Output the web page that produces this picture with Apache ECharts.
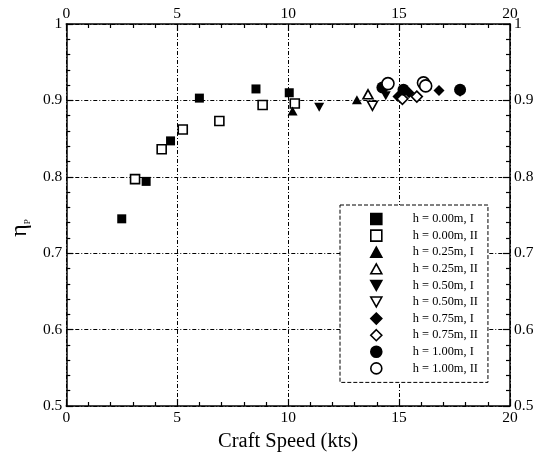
<!DOCTYPE html>
<html>
<head>
<meta charset="utf-8">
<script src="https://cdn.jsdelivr.net/npm/echarts@6/dist/echarts.min.js"></script>
<style>html,body{margin:0;padding:0;background:#fff;}#c{width:539px;height:459px;}</style>
</head>
<body>
<div id="c"></div>
<script>
// ---- data (Craft Speed in kts, propulsive efficiency eta_P) ----
const seriesNames = ['h = 0.00m, I','h = 0.00m, II','h = 0.25m, I','h = 0.25m, II','h = 0.50m, I','h = 0.50m, II','h = 0.75m, I','h = 0.75m, II','h = 1.00m, I','h = 1.00m, II'];
const h000_I_x  = [2.5, 3.6, 4.7, 6.0, 8.55, 10.05];
const h000_I_y  = [0.745, 0.794, 0.847, 0.903, 0.915, 0.910];
const h000_II_x = [3.1, 4.3, 5.25, 6.9, 8.85, 10.3];
const h000_II_y = [0.797, 0.836, 0.862, 0.873, 0.894, 0.896];
const h025_I_x  = [10.2, 13.1];
const h025_I_y  = [0.886, 0.901];
const h025_II_x = [13.6];
const h025_II_y = [0.908];
const h050_I_x  = [11.4, 14.4];
const h050_I_y  = [0.891, 0.906];
const h050_II_x = [13.8];
const h050_II_y = [0.893];
const h075_I_x  = [14.95, 15.45, 16.8, 17.75];
const h075_I_y  = [0.905, 0.910, 0.913, 0.912];
const h075_II_x = [15.15, 15.8];
const h075_II_y = [0.902, 0.905];
const h100_I_x  = [14.25, 15.2, 17.75];
const h100_I_y  = [0.917, 0.914, 0.914];
const h100_II_x = [14.5, 16.1, 16.2];
const h100_II_y = [0.922, 0.923, 0.919];
const xTicks = [0, 5, 10, 15, 20];
const yTicks = [0.5, 0.6, 0.7, 0.8, 0.9, 1];

const xsList = [h000_I_x,h000_II_x,h025_I_x,h025_II_x,h050_I_x,h050_II_x,h075_I_x,h075_II_x,h100_I_x,h100_II_x];
const ysList = [h000_I_y,h000_II_y,h025_I_y,h025_II_y,h050_I_y,h050_II_y,h075_I_y,h075_II_y,h100_I_y,h100_II_y];

const P = {
  square: 'path://M0,0L10,0L10,10L0,10Z',
  tri: 'path://M5,0L10,9L0,9Z',
  itri: 'path://M0,0L10,0L5,9Z',
  diamond: 'path://M5,0L10,5L5,10L0,5Z',
  circle: 'path://M0,5A5,5,0,1,1,10,5A5,5,0,1,1,0,5Z'
};
const shapes = ['square','square','tri','tri','itri','itri','diamond','diamond','circle','circle'];
const sizes  = {square:9, tri:10, itri:10, diamond:11, circle:12};
const FONT = "'Liberation Serif','DejaVu Serif',serif";

const series = seriesNames.map((n, i) => {
  const open = i % 2 === 1;
  const s = shapes[i];
  const sz = sizes[s];
  return {
    name: n, type: 'scatter', xAxisIndex: 0, yAxisIndex: 0,
    symbol: P[s], symbolSize: [sz, s === 'tri' || s === 'itri' ? sz * 0.9 : sz],
    itemStyle: open ? {color: '#fff', borderColor: '#000', borderWidth: 1.6, opacity: 1}
                    : {color: '#000', borderColor: '#000', borderWidth: 0, opacity: 1},
    data: xsList[i].map((x, k) => [x, ysList[i][k]]),
    z: 3 + i
  };
});

const axisCommon = {
  axisLine: {show: true, onZero: false, lineStyle: {color: '#000', width: 1.5}},
  axisTick: {show: true, inside: true, length: 7, lineStyle: {color: '#000', width: 1.2}},
  minorTick: {show: true, splitNumber: 5, length: 4, lineStyle: {color: '#000', width: 1.2}},
  axisLabel: {color: '#000', fontFamily: FONT, fontSize: 15.5, margin: 4},
};
const gridLine = {show: true, lineStyle: {color: '#000', width: 1, type: [4, 2, 1, 2]}};

const chart = echarts.init(document.getElementById('c'), null, {renderer: 'canvas'});
chart.setOption({
  backgroundColor: '#fff',
  animation: false,
  grid: {left: 56, right: 29, top: 24, bottom: 53, containLabel: false},
  xAxis: [
    Object.assign({}, axisCommon, {type: 'value', position: 'bottom', min: xTicks[0], max: xTicks[xTicks.length-1], interval: 5,
      splitLine: gridLine, name: 'Craft Speed (kts)', nameLocation: 'middle', nameGap: 25,
      nameTextStyle: {color: '#000', fontFamily: FONT, fontSize: 20.5}}),
    Object.assign({}, axisCommon, {type: 'value', position: 'top', min: xTicks[0], max: xTicks[xTicks.length-1], interval: 5,
      splitLine: {show: false}, axisLabel: Object.assign({}, axisCommon.axisLabel, {margin: 2})})
  ],
  yAxis: [
    Object.assign({}, axisCommon, {type: 'value', position: 'left', min: yTicks[0], max: yTicks[yTicks.length-1], interval: 0.1,
      splitLine: gridLine, name: '{e|η}{s|P}', nameLocation: 'middle', nameGap: 29,
      nameTextStyle: {color: '#000', fontFamily: FONT, padding: [0, 26, 0, 0], rich: {
        e: {fontSize: 24, fontFamily: FONT, color: '#000'},
        s: {fontSize: 9, fontFamily: FONT, color: '#000', verticalAlign: 'bottom', padding: [12, 0, 0, 0]}
      }}}),
    Object.assign({}, axisCommon, {type: 'value', position: 'right', min: yTicks[0], max: yTicks[yTicks.length-1], interval: 0.1,
      splitLine: {show: false}, axisLabel: Object.assign({}, axisCommon.axisLabel, {margin: 4})})
  ],
  legend: {
    show: true, orient: 'vertical', left: 340, top: 205, align: 'left',
    backgroundColor: '#fff', borderColor: '#000', borderWidth: 1, borderType: 'dashed', borderRadius: 0,
    padding: [7, 10, 7, 30],
    itemWidth: 11, itemHeight: 14, itemGap: 2.6, symbolKeepAspect: true,
    itemStyle: {borderWidth: 1.6},
    formatter: '{g| }{t|{name}}',
    textStyle: {color: '#000', fontFamily: FONT, fontSize: 12.4, lineHeight: 14,
      rich: {g: {width: 26, fontSize: 12.4, lineHeight: 14}, t: {fontFamily: FONT, fontSize: 12.4, lineHeight: 14, color: '#000'}}},
    data: seriesNames.map((n, i) => ({name: n, icon: P[shapes[i]]})),
    selectedMode: false
  },
  series: series
});
</script>
</body>
</html>
